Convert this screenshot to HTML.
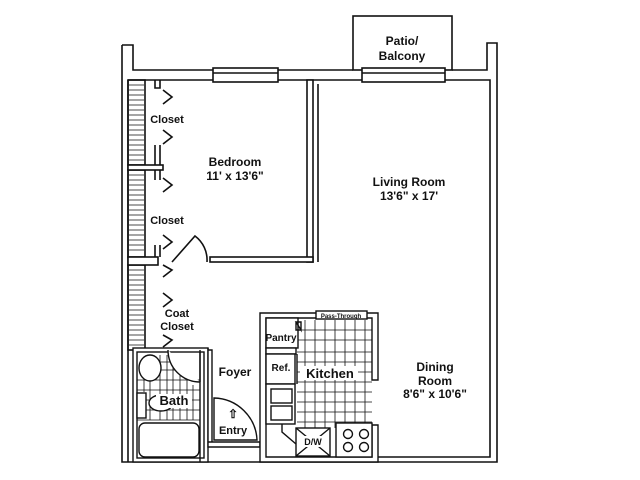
<!DOCTYPE html>
<html><head><style>body{margin:0;background:#fff}svg{display:block}
text{font-family:"Liberation Sans",sans-serif;font-weight:bold;fill:#111}</style></head><body>
<svg width="640" height="480" viewBox="0 0 640 480" xmlns="http://www.w3.org/2000/svg">
<g fill="none" stroke="#111" stroke-width="1.6">
<rect x="353" y="16" width="99" height="54"/>
<path d="M122 45 H133 V70 H353 M452 70 H487 V43 H497 V462 H122 V45"/>
<path d="M128 80 H213 M278 80 H362 M445 80 H490 V457 H378"/>
<path d="M128 80 V462"/>
<rect x="213" y="68" width="65" height="14" fill="#fff"/>
<line x1="213" y1="73" x2="278" y2="73"/>
<rect x="362" y="68" width="83" height="14" fill="#fff"/>
<line x1="362" y1="73" x2="445" y2="73"/>
<rect x="307" y="80" width="6" height="182" fill="#fff"/>
<path d="M318 84 V262"/>
<rect x="210" y="257" width="103" height="5" fill="#fff"/>
<!-- closet wall stubs -->
<path d="M155 80 V88 H160 V80 M155 145 V165 M160 145 V165 M155 170 V180 M160 170 V180 M155 245 V257 M160 245 V257"/>
<rect x="128" y="80" width="17" height="85"/>
<rect x="128" y="170" width="17" height="87"/>
<rect x="128" y="265" width="17" height="85"/>
<rect x="128" y="165" width="35" height="5" fill="#fff"/>
<rect x="128" y="257" width="30" height="8" fill="#fff"/>
<path d="M163 90 L172 97 L163 104 M163 130 L172 137 L163 144 M163 178 L172 185 L163 192 M163 235 L172 242 L163 249 M163 265 L172 270 L163 277 M163 293 L172 300 L163 307 M163 335 L172 340 L163 347"/>
<path d="M172 262 L195 236 A30 30 0 0 1 207 262"/>
</g>
<g stroke="#111" stroke-width="0.7">
<path d="M129 85 H144 M129 90 H144 M129 95 H144 M129 100 H144 M129 105 H144 M129 110 H144 M129 115 H144 M129 120 H144 M129 125 H144 M129 130 H144 M129 135 H144 M129 140 H144 M129 145 H144 M129 150 H144 M129 155 H144 M129 160 H144"/>
<path d="M129 175 H144 M129 180 H144 M129 185 H144 M129 190 H144 M129 195 H144 M129 200 H144 M129 205 H144 M129 210 H144 M129 215 H144 M129 220 H144 M129 225 H144 M129 230 H144 M129 235 H144 M129 240 H144 M129 245 H144 M129 250 H144"/>
<path d="M129 270 H144 M129 275 H144 M129 280 H144 M129 285 H144 M129 290 H144 M129 295 H144 M129 300 H144 M129 305 H144 M129 310 H144 M129 315 H144 M129 320 H144 M129 325 H144 M129 330 H144 M129 335 H144 M129 340 H144 M129 345 H144"/>
</g>
<g fill="none" stroke="#111" stroke-width="1.4">
<rect x="133" y="348" width="75" height="114" fill="#fff"/>
<rect x="137" y="352" width="67" height="106"/>
<path d="M200 352 V462"/>
<g stroke-width="0.8">
<path d="M160 355 V420 M167 355 V420 M173 360 V420 M180 375 V420 M187 380 V420 M193 385 V420 M160 362 H170 M160 370 H180 M137 380 H200 M137 390 H200 M137 400 H200 M137 410 H200 M137 420 H200 M150 375 V420 M144 380 V392"/>
</g>
<ellipse cx="150" cy="368" rx="11" ry="13" fill="#fff"/>
<rect x="137" y="393" width="9" height="25" fill="#fff"/>
<ellipse cx="161" cy="403" rx="12" ry="8" fill="#fff"/>
<path d="M168 350 A32 32 0 0 0 200 382" fill="#fff"/>
<path d="M200 350 V382"/>
<rect x="139" y="423" width="60" height="34" rx="6" fill="#fff"/>
<path d="M208 348 V442 H212 V350 H208 M208 442 H260 V447 H208 Z" fill="#fff"/>
<path d="M214 440 V398 A44 44 0 0 1 257 440 Z" fill="#fff"/>
<path d="M260 313 H378 V380 H372 V318 H266 V457 H372 V425 H378 V462 H260 Z" fill="#fff"/>
<rect x="316" y="311" width="51" height="8" fill="#fff"/>
<g stroke-width="0.8">
<path d="M305 320 V428 M315 320 V428 M325 320 V428 M335 320 V428 M345 320 V428 M355 320 V428 M365 320 V428 M297 330 H372 M297 340 H372 M297 352 H372 M297 362 H372 M297 372 H372 M297 382 H372 M297 392 H372 M297 402 H372 M297 412 H372 M297 422 H372"/>
</g>
<rect x="266" y="318" width="32" height="30" fill="#fff"/>
<rect x="266" y="348" width="30" height="6" fill="#fff"/>
<path d="M296 322 H301 L301 330 Z M296 322 V330 H301"/>
<rect x="266" y="354" width="29" height="30" fill="#fff"/>
<line x1="297" y1="354" x2="297" y2="384"/>
<rect x="266" y="384" width="29" height="40" fill="#fff"/>
<rect x="271" y="389" width="21" height="14"/>
<rect x="271" y="406" width="21" height="14"/>
<path d="M282 424 V432 L296 444"/>
<rect x="296" y="428" width="34" height="28" fill="#fff"/>
<path d="M296 428 L330 456 M330 428 L296 456"/>
<rect x="336" y="423" width="36" height="34" fill="#fff"/>
<circle cx="348" cy="434" r="4.5"/><circle cx="364" cy="434" r="4.5"/>
<circle cx="348" cy="447" r="4.5"/><circle cx="364" cy="447" r="4.5"/>
</g>
<g font-size="12" text-anchor="middle">
<rect x="300" y="366" width="58" height="14" fill="#fff"/>
<rect x="156" y="394" width="36" height="14" fill="#fff"/>
<rect x="302" y="436" width="22" height="11" fill="#fff"/>
<text x="402" y="45">Patio/</text>
<text x="402" y="60">Balcony</text>
<text x="167" y="123" font-size="11">Closet</text>
<text x="167" y="224" font-size="11">Closet</text>
<text x="177" y="317" font-size="11">Coat</text>
<text x="177" y="330" font-size="11">Closet</text>
<text x="235" y="166">Bedroom</text>
<text x="235" y="180">11' x 13'6"</text>
<text x="409" y="186">Living Room</text>
<text x="409" y="200">13'6" x 17'</text>
<text x="435" y="371">Dining</text>
<text x="435" y="385">Room</text>
<text x="435" y="398">8'6" x 10'6"</text>
<text x="235" y="376">Foyer</text>
<text x="233" y="434" font-size="11">Entry</text>
<text x="233" y="418">⇧</text>
<text x="174" y="405" font-size="13">Bath</text>
<text x="330" y="378" font-size="13">Kitchen</text>
<text x="281" y="341" font-size="10">Pantry</text>
<text x="281" y="371" font-size="10">Ref.</text>
<text x="313" y="445" font-size="9">D/W</text>
<text x="341" y="318" font-size="6">Pass-Through</text>
</g>
</svg>
</body></html>
